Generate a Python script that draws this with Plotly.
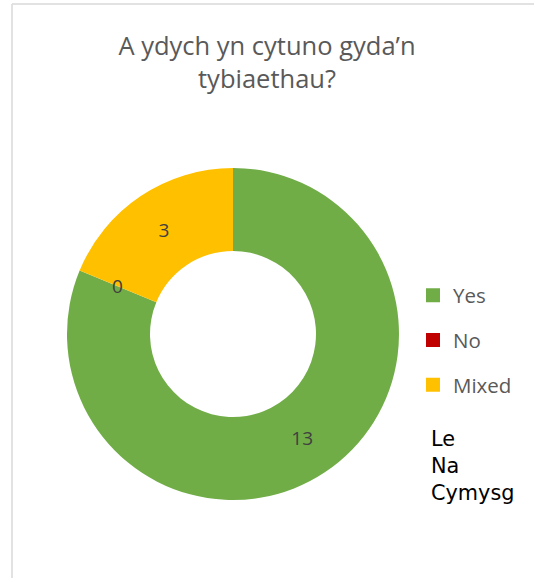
import math
import plotly.graph_objects as go

# ---- data ----
categories = ["Yes", "No", "Mixed"]
values = [13, 0, 3]
colors = ["#70AD47", "#C00000", "#FFC000"]
title_text = "A ydych yn cytuno gyda’n<br>tybiaethau?"
note_lines = ["Le", "Na", "Cymysg"]

W, H = 534, 578
cx, cy, R = 233, 334, 166   # pie centre / radius in pixels
hole = 0.5

fig = go.Figure()

fig.add_trace(go.Pie(
    labels=categories,
    values=values,
    marker=dict(colors=colors, line=dict(width=0)),
    hole=hole,
    sort=False,
    direction="clockwise",
    rotation=0,
    textinfo="value",
    textposition="inside",
    insidetextorientation="horizontal",
    textfont=dict(family="Open Sans", size=19, color="#404040"),
    domain=dict(x=[(cx - R) / W, (cx + R) / W], y=[(H - cy - R) / H, (H - cy + R) / H]),
    showlegend=False,
    hoverinfo="label+value+percent",
))

# legend entries (one per category)
for c, col in zip(categories, colors):
    fig.add_trace(go.Scatter(
        x=[None], y=[None], mode="markers", name=c,
        marker=dict(symbol="square", size=14, color=col),
        legendgroup=c, showlegend=True, hoverinfo="skip",
    ))

# label for zero-valued slices (plotly does not draw text for them)
total = sum(values)
cum = 0
annotations = []
for v in values:
    if v == 0:
        ang = 2 * math.pi * cum / total
        rm = R * (1 + hole) / 2
        px = cx + rm * math.sin(ang)
        py = cy - rm * math.cos(ang)
        annotations.append(dict(x=px / W, y=1 - py / H, xref="paper", yref="paper",
                                xanchor="center", yanchor="middle",
                                text=str(v), showarrow=False,
                                font=dict(family="Open Sans", size=19, color="#404040")))
    cum += v

annotations.append(dict(
    x=429 / W, y=1 - 425 / H, xref="paper", yref="paper", xanchor="left", yanchor="top",
    align="left", showarrow=False, text="<br>".join(note_lines),
    font=dict(family="DejaVu Sans", size=20.8, color="#000000"),
))

border = dict(color="#D9D9D9", width=1.5)
fig.update_layout(
    width=W, height=H,
    margin=dict(l=0, r=0, t=0, b=0),
    paper_bgcolor="white", plot_bgcolor="white",
    title=dict(text=title_text, x=267 / W, xanchor="center", y=1 - 55 / H, yanchor="top",
               yref="container",
               font=dict(family="Open Sans", size=25.5, color="#595959")),
    xaxis=dict(visible=False), yaxis=dict(visible=False),
    legend=dict(x=413 / W, xanchor="left", y=1 - 275.5 / H, yanchor="top",
                traceorder="grouped", tracegroupgap=15,
                font=dict(family="Open Sans", size=20.5, color="#595959"),
                bgcolor="rgba(0,0,0,0)"),
    annotations=annotations,
    shapes=[
        dict(type="line", xref="paper", yref="paper", x0=12 / W, x1=12 / W, y0=0, y1=1 - 4 / H, line=border),
        dict(type="line", xref="paper", yref="paper", x0=12 / W, x1=1, y0=1 - 4 / H, y1=1 - 4 / H, line=border),
    ],
)

fig.write_html("out.html", config={"displayModeBar": False},
               post_script="document.body.style.margin='0';"
                           "document.documentElement.style.overflow='hidden';"
                           "document.body.style.overflow='hidden';")
